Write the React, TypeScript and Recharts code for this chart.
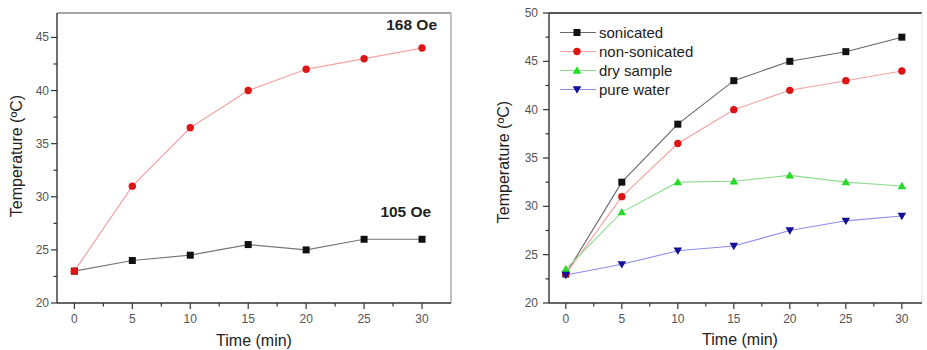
import React from 'react';
import { LineChart, Line, XAxis, YAxis, ReferenceLine, ReferenceDot, Legend, Label } from 'recharts';

const FONT = '"Liberation Sans", Arial, Helvetica, sans-serif';

// ---- data ----
const times = [0, 5, 10, 15, 20, 25, 30];
const field168 = [23, 31, 36.5, 40, 42, 43, 44];
const field105 = [23, 24, 24.5, 25.5, 25, 26, 26];
const sonicated = [23, 32.5, 38.5, 43, 45, 46, 47.5];
const nonSonicated = [23, 31, 36.5, 40, 42, 43, 44];
const drySample = [23.5, 29.4, 32.5, 32.6, 33.2, 32.5, 32.1];
const pureWater = [22.9, 24, 25.4, 25.9, 27.5, 28.5, 29];

const xTicks = [0, 2.5, 5, 7.5, 10, 12.5, 15, 17.5, 20, 22.5, 25, 27.5, 30];
const leftYTicks = [20, 22.5, 25, 27.5, 30, 32.5, 35, 37.5, 40, 42.5, 45];
const rightYTicks = [20, 22.5, 25, 27.5, 30, 32.5, 35, 37.5, 40, 42.5, 45, 47.5, 50];
const fieldLabels = ['168 Oe', '105 Oe'];
const seriesNames = ['sonicated', 'non-sonicated', 'dry sample', 'pure water'];

const leftData = times.map((t, i) => ({ t, a: field168[i], b: field105[i] }));
const rightData = times.map((t, i) => ({
  t,
  s: sonicated[i],
  n: nonSonicated[i],
  d: drySample[i],
  w: pureWater[i],
}));

// ---- marker shapes ----
type MarkerKind = 'square' | 'circle' | 'up' | 'down';
const Marker = ({ kind, cx, cy, fill }: { kind: MarkerKind; cx: number; cy: number; fill: string }) => {
  if (kind === 'square') return <rect x={cx - 3.5} y={cy - 3.5} width={7} height={7} fill={fill} />;
  if (kind === 'circle') return <circle cx={cx} cy={cy} r={3.7} fill={fill} />;
  if (kind === 'up')
    return <polygon points={`${cx},${cy - 4.2} ${cx + 4.3},${cy + 3.2} ${cx - 4.3},${cy + 3.2}`} fill={fill} />;
  return <polygon points={`${cx},${cy + 4.2} ${cx + 4.3},${cy - 3.2} ${cx - 4.3},${cy - 3.2}`} fill={fill} />;
};

const makeDot = (kind: MarkerKind, fill: string, id: string) => (props: any) => {
  const { cx, cy, index } = props;
  if (cx == null || cy == null) return <g key={`${id}-${index}`} />;
  return (
    <g key={`${id}-${index}`}>
      <Marker kind={kind} cx={cx} cy={cy} fill={fill} />
    </g>
  );
};

// ---- ticks ----
const isMajor = (v: number) => Math.abs(v % 5) < 1e-6;

const makeXTick = (axisY: number) => (props: any) => {
  const { x, payload, index } = props;
  const v = payload.value;
  const major = isMajor(v);
  return (
    <g key={`xt-${index}`}>
      <line x1={x} x2={x} y1={axisY} y2={axisY + (major ? 6 : 3.5)} stroke="#333" strokeWidth={1.2} />
      {major && (
        <text x={x} y={axisY + 20} textAnchor="middle" fontSize={12} fill="#555" fontFamily={FONT}>
          {v}
        </text>
      )}
    </g>
  );
};

const makeYTick = (axisX: number, gap: number) => (props: any) => {
  const { y, payload, index } = props;
  const v = payload.value;
  const major = isMajor(v);
  return (
    <g key={`yt-${index}`}>
      <line x1={axisX - (major ? 6 : 3.5)} x2={axisX} y1={y} y2={y} stroke="#333" strokeWidth={1.2} />
      {major && (
        <text x={axisX - gap} y={y + 4} textAnchor="end" fontSize={12} fill="#555" fontFamily={FONT}>
          {v}
        </text>
      )}
    </g>
  );
};

const axisTitle = (text: string, x: number, y: number, rotate: boolean) => () =>
  (
    <text
      x={x}
      y={y}
      textAnchor="middle"
      fontSize={16}
      fill="#222"
      fontFamily={FONT}
      transform={rotate ? `rotate(-90 ${x} ${y})` : undefined}
      dominantBaseline="central"
    >
      {text}
    </text>
  );

const annot = (text: string) => (props: any) => {
  const vb = props.viewBox || {};
  const cx = (vb.x || 0) + (vb.width || 0) / 2;
  const cy = (vb.y || 0) + (vb.height || 0) / 2;
  return (
    <text x={cx} y={cy + 5.5} textAnchor="middle" fontSize={15.5} fontWeight="bold" fill="#222" fontFamily={FONT}>
      {text}
    </text>
  );
};

// ---- legend ----
const legendStyles: { line: string; kind: MarkerKind; fill: string }[] = [
  { line: '#666', kind: 'square', fill: '#111' },
  { line: '#f2a0a0', kind: 'circle', fill: '#dd1515' },
  { line: '#8fdc8f', kind: 'up', fill: '#22dd22' },
  { line: '#8c8ce8', kind: 'down', fill: '#10109a' },
];

const LegendContent = () => (
  <div style={{ fontFamily: FONT, fontSize: 15, color: '#222' }}>
    {seriesNames.map((name, i) => (
      <div key={name} style={{ display: 'flex', alignItems: 'center', height: 19 }}>
        <svg width={39} height={19} style={{ display: 'block' }}>
          <line x1={0} x2={36} y1={9.5} y2={9.5} stroke={legendStyles[i].line} strokeWidth={1} />
          <Marker kind={legendStyles[i].kind} cx={17} cy={9.5} fill={legendStyles[i].fill} />
        </svg>
        <span style={{ lineHeight: '19px', whiteSpace: 'nowrap' }}>{name}</span>
      </div>
    ))}
  </div>
);

export default function App() {
  return (
    <div style={{ position: 'absolute', left: 0, top: 0, width: 927, height: 350, background: '#fff', overflow: 'hidden' }}>
      {/* Left chart */}
      <div style={{ position: 'absolute', left: 0, top: 0 }}>
        <LineChart width={460} height={350} data={leftData} margin={{ top: 13, right: 9, bottom: 0, left: 0 }}>
          <XAxis
            dataKey="t"
            type="number"
            domain={[-1.5, 32.5]}
            ticks={xTicks}
            interval={0}
            allowDataOverflow
            height={47}
            tickLine={false}
            tickSize={6}
            tickMargin={0}
            tick={makeXTick(303)}
            axisLine={{ stroke: '#333', strokeWidth: 1.4 }}
          >
            <Label content={axisTitle('Time (min)', 254, 340, false)} />
          </XAxis>
          <YAxis
            type="number"
            domain={[20, 47.3]}
            ticks={leftYTicks}
            interval={0}
            allowDataOverflow
            width={57}
            tickLine={false}
            tickSize={6}
            tickMargin={0}
            tick={makeYTick(57, 8)}
            axisLine={{ stroke: '#333', strokeWidth: 1.4 }}
          >
            <Label content={axisTitle('Temperature (ºC)', 16, 156, true)} />
          </YAxis>
          <ReferenceLine y={47.3} stroke="#8a8a8a" strokeWidth={1.4} />
          <ReferenceLine x={32.5} stroke="#9a9a9a" strokeWidth={1.2} />
          <Line
            dataKey="b"
            stroke="#777"
            strokeWidth={1.2}
            dot={makeDot('square', '#111', 'b')}
            isAnimationActive={false}
          />
          <Line
            dataKey="a"
            stroke="#f2a3a3"
            strokeWidth={1.2}
            dot={makeDot('circle', '#dd1515', 'a')}
            isAnimationActive={false}
          />
          <ReferenceDot x={29.1} y={46.2} r={1} fill="none" stroke="none" label={{ content: annot(fieldLabels[0]) }} />
          <ReferenceDot x={28.6} y={28.6} r={1} fill="none" stroke="none" label={{ content: annot(fieldLabels[1]) }} />
        </LineChart>
      </div>

      {/* Right chart */}
      <div style={{ position: 'absolute', left: 460, top: 0 }}>
        <LineChart width={467} height={350} data={rightData} margin={{ top: 13, right: 5, bottom: 0, left: 0 }}>
          <XAxis
            dataKey="t"
            type="number"
            domain={[-1.5, 31.8]}
            ticks={xTicks}
            interval={0}
            allowDataOverflow
            height={47}
            tickLine={false}
            tickSize={6}
            tickMargin={0}
            tick={makeXTick(303)}
            axisLine={{ stroke: '#333', strokeWidth: 1.4 }}
          >
            <Label content={axisTitle('Time (min)', 280, 339, false)} />
          </XAxis>
          <YAxis
            type="number"
            domain={[20, 50]}
            ticks={rightYTicks}
            interval={0}
            allowDataOverflow
            width={89}
            tickLine={false}
            tickSize={6}
            tickMargin={0}
            tick={makeYTick(89, 11)}
            axisLine={{ stroke: '#333', strokeWidth: 1.4 }}
          >
            <Label content={axisTitle('Temperature (ºC)', 43, 162, true)} />
          </YAxis>
          <ReferenceLine y={50} stroke="#555" strokeWidth={2} />
          <ReferenceLine x={31.8} stroke="#e4e4e4" strokeWidth={1} />
          <Line dataKey="s" name={seriesNames[0]} stroke="#666" strokeWidth={1.1} dot={makeDot('square', '#111', 's')} isAnimationActive={false} />
          <Line dataKey="n" name={seriesNames[1]} stroke="#f2a0a0" strokeWidth={1.1} dot={makeDot('circle', '#dd1515', 'n')} isAnimationActive={false} />
          <Line dataKey="d" name={seriesNames[2]} stroke="#8fdc8f" strokeWidth={1.1} dot={makeDot('up', '#22dd22', 'd')} isAnimationActive={false} />
          <Line dataKey="w" name={seriesNames[3]} stroke="#8c8ce8" strokeWidth={1.1} dot={makeDot('down', '#10109a', 'w')} isAnimationActive={false} />
          <Legend
            layout="vertical"
            align="center"
            verticalAlign="middle"
            content={<LegendContent />}
            wrapperStyle={{ left: 100, top: 22.5, width: 200, margin: 0 }}
          />
        </LineChart>
      </div>
    </div>
  );
}
